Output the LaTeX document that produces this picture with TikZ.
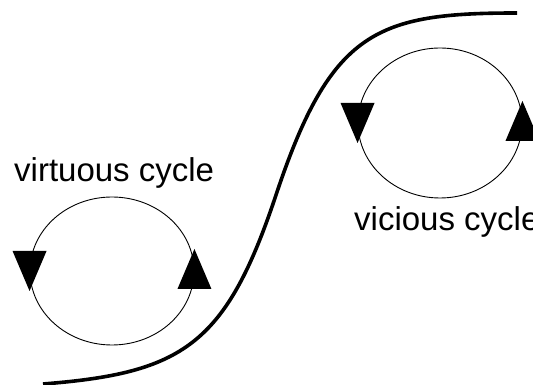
\documentclass[tikz,border=0pt]{standalone}
\usepackage{fontspec}
\setmainfont{Liberation Sans}
\usetikzlibrary{shapes.geometric,calc}

\begin{document}
\begin{tikzpicture}[
    x=1pt, y=1pt,
    loop/.style={ellipse, draw=black, line width=0.9pt, inner sep=0pt,
                 minimum width=164pt, minimum height=148pt},
    label/.style={anchor=base west, inner sep=0pt, font=\fontsize{33}{40}\selectfont},
    slope/.style={line width=3.6pt}
]
\useasboundingbox (0,0) rectangle (533,385);
\clip (0,0) rectangle (533,385);

% the S-shaped boundary
\coordinate (low) at (43,1);
\coordinate (mid) at (276,190);
\coordinate (high) at (517,372);
\draw[slope] (low) .. controls (183,12) and (226,40) .. (mid)
                   .. controls (331,355) and (377,372) .. (high);

% the two cycles
\node[loop] (virtuous) at (112,114) {};
\node[loop, minimum height=150pt] (vicious) at (440,262) {};

\node[label] (vlabel) at (14,203) {virtuous cycle};
\node[label] (clabel) at (354,154) {vicious cycle};

% arrowheads
\foreach \c in {virtuous, vicious} {
    \fill ($(\c.west)+(0,-20)$) -- ++(-17,40) -- ++(34,0) -- cycle;
    \fill ($(\c.east)+(0,22)$) -- ++(-17,-40) -- ++(34,0) -- cycle;
}
\end{tikzpicture}
\end{document}
